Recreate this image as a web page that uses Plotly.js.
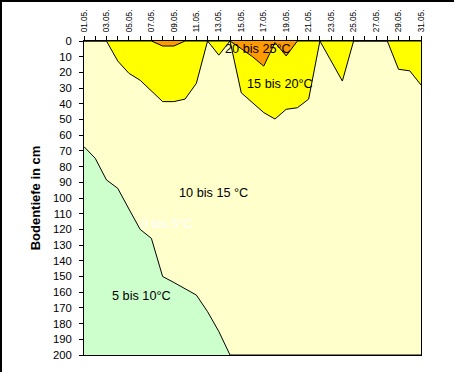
<!DOCTYPE html>
<html>
<head>
<meta charset="utf-8">
<script src="https://cdn.plot.ly/plotly-3.0.1.min.js"></script>
<style>
  html, body { margin: 0; padding: 0; background: #ffffff; }
  #wrap { position: relative; width: 454px; height: 372px; overflow: hidden; }
  #chart { width: 454px; height: 372px; }
  #frame { position: absolute; left: 0; top: 0; width: 454px; height: 372px;
           border-left: 2px solid #000; border-top: 2px solid #000;
           box-sizing: border-box; pointer-events: none; }
</style>
</head>
<body>
<div id="wrap"><div id="chart"></div><div id="frame"></div></div>
<script>
// Days of May
const days = [1,2,3,4,5,6,7,8,9,10,11,12,13,14,15,16,17,18,19,20,21,22,23,24,25,26,27,28,29,30,31];
const dateLabels = ["01.05.","02.05.","03.05.","04.05.","05.05.","06.05.","07.05.","08.05.","09.05.","10.05.",
  "11.05.","12.05.","13.05.","14.05.","15.05.","16.05.","17.05.","18.05.","19.05.","20.05.",
  "21.05.","22.05.","23.05.","24.05.","25.05.","26.05.","27.05.","28.05.","29.05.","30.05.","31.05."];

// Depth (cm) of the isotherms
const depth20 = [0,0,0,0,0,0,0,3.2,3.2,0,0,0,0,0,4.9,10,16,1,9.5,0,0,0,0,0,0,0,0,0,0,0,0];
const depth15 = [0,0,0,12.7,20.6,25,31.5,38.6,38.6,37,27,0,9,0,33,39,45.6,49.7,43.5,42.5,37,0,12.3,25.5,0,0,0,0,18,19,28];
const depth10 = [67.3,74.7,88.5,93.8,107,120,125.7,150,153.8,157.8,161.8,172.4,185,200,200,200,200,200,200,200,200,200,200,200,200,200,200,200,200,200,200];

// Zone labels
const zoneNames = ["20 bis 25°C","15 bis 20°C","10 bis 15 °C","0 bis 5°C","5 bis 10°C"];
const zoneDay   = [16.5, 18.45, 12.55, 8.38, 6.1];
const zoneDepth = [4.9, 27.6, 96.6, 116.8, 162.2];
const zoneColor = ["#000000","#000000","#000000","#ffffff","#000000"];

const FONT = "Liberation Sans, Arial, sans-serif";
const lineStyle = {color: "#000000", width: 1};

const traces = [
  {x: days, y: depth10, type: "scatter", mode: "lines", line: lineStyle,
   fill: "tozeroy", fillcolor: "#FFFFCC", hoverinfo: "skip"},
  {x: days, y: depth15, type: "scatter", mode: "lines", line: lineStyle,
   fill: "tozeroy", fillcolor: "#FFFF00", hoverinfo: "skip"},
  {x: days, y: depth20, type: "scatter", mode: "lines", line: lineStyle,
   fill: "tozeroy", fillcolor: "#FF9900", hoverinfo: "skip"}
];

const annotations = zoneNames.map((t, i) => ({
  x: zoneDay[i], y: zoneDepth[i], xref: "x", yref: "y", text: t, showarrow: false,
  font: {family: FONT, size: 12.7, color: zoneColor[i]}, xanchor: "center", yanchor: "middle"
}));

const layout = {
  width: 454, height: 372,
  margin: {l: 84, r: 33, t: 41, b: 17, pad: 0},
  paper_bgcolor: "#ffffff",
  plot_bgcolor: "#CCFFCC",
  showlegend: false,
  font: {family: FONT, color: "#000000"},
  xaxis: {
    range: [1, 31], side: "top", showgrid: false, zeroline: false,
    tickmode: "array", tickvals: days,
    ticktext: dateLabels.map((d, i) => (i % 2 === 0 ? d : "")),
    tickangle: -90, ticks: "outside", ticklen: 4, tickcolor: "#000", tickwidth: 1,
    tickfont: {family: FONT, size: 8.2, color: "#000"},
    showline: true, linecolor: "#000", linewidth: 1, mirror: true,
    ticklabelstandoff: 2, fixedrange: true
  },
  yaxis: {
    range: [200, 0], showgrid: false, zeroline: false,
    tickmode: "linear", tick0: 0, dtick: 10,
    ticks: "outside", ticklen: 4, tickcolor: "#000", tickwidth: 1,
    tickfont: {family: FONT, size: 11.3, color: "#000"},
    showline: true, linecolor: "#000", linewidth: 1, mirror: true,
    ticklabelstandoff: 5,
    title: {text: "Bodentiefe in cm", font: {family: FONT, size: 13, color: "#000", weight: "bold"}, standoff: 9},
    fixedrange: true
  },
  annotations: annotations
};

Plotly.newPlot("chart", traces, layout, {staticPlot: true, displayModeBar: false});
</script>
</body>
</html>
